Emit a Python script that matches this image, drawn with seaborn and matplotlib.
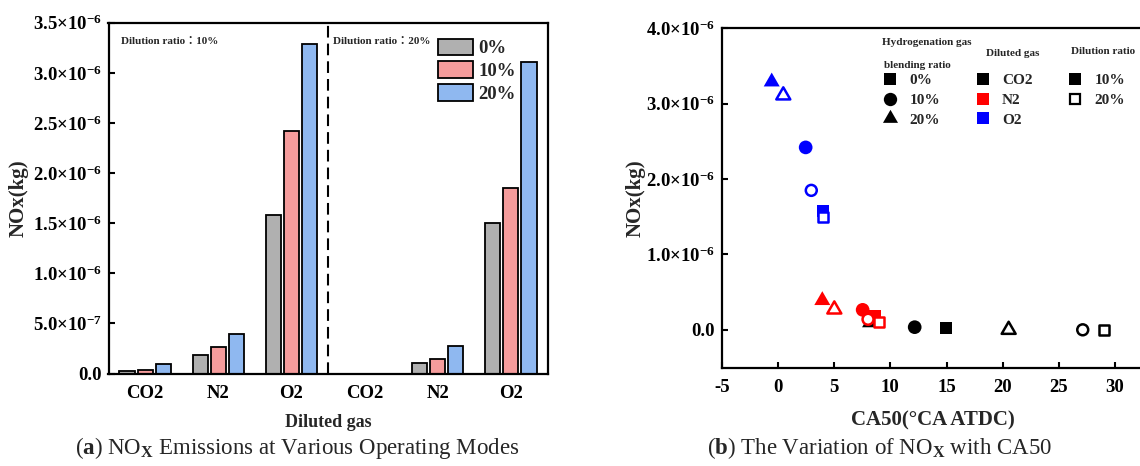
import numpy as np
import pandas as pd
import matplotlib
matplotlib.use("Agg")
import matplotlib.pyplot as plt
from matplotlib.lines import Line2D
from matplotlib.path import Path
from matplotlib.ticker import FuncFormatter
import seaborn as sns

# ---------------- data ----------------
gases = ["CO2", "N2", "O2"]
blend_ratios = ["0%", "10%", "20%"]
dilution_ratios = ["10%", "20%"]

# NOx emission (kg) for CO2, N2, O2 at each hydrogen blending ratio
nox_dil10_h0 = [2.0e-8, 1.8e-7, 1.58e-6]
nox_dil10_h10 = [3.5e-8, 2.65e-7, 2.42e-6]
nox_dil10_h20 = [9.5e-8, 3.9e-7, 3.29e-6]
nox_dil20_h0 = [0.0, 1.0e-7, 1.50e-6]
nox_dil20_h10 = [0.0, 1.4e-7, 1.85e-6]
nox_dil20_h20 = [0.0, 2.7e-7, 3.11e-6]

# CA50 (°CA ATDC) for CO2, N2, O2 at each hydrogen blending ratio
ca50_dil10_h0 = [14.96, 8.58, 3.99]
ca50_dil10_h10 = [12.17, 7.54, 2.47]
ca50_dil10_h20 = [8.2, 3.95, -0.55]
ca50_dil20_h0 = [29.04, 9.02, 3.99]
ca50_dil20_h10 = [27.12, 8.02, 2.97]
ca50_dil20_h20 = [20.53, 5.02, 0.48]

y_ticks_a = [0, 5e-7, 1e-6, 1.5e-6, 2e-6, 2.5e-6, 3e-6, 3.5e-6]
y_ticks_b = [0, 1e-6, 2e-6, 3e-6, 4e-6]
x_ticks_b = [-5, 0, 5, 10, 15, 20, 25, 30]

bar_palette = {"0%": "#B0B0B0", "10%": "#F59C9C", "20%": "#8FB8F0"}
gas_palette = {"CO2": "#000000", "N2": "#FF0000", "O2": "#0000FF"}

series = [
    ("10%", "0%", nox_dil10_h0, ca50_dil10_h0),
    ("10%", "10%", nox_dil10_h10, ca50_dil10_h10),
    ("10%", "20%", nox_dil10_h20, ca50_dil10_h20),
    ("20%", "0%", nox_dil20_h0, ca50_dil20_h0),
    ("20%", "10%", nox_dil20_h10, ca50_dil20_h10),
    ("20%", "20%", nox_dil20_h20, ca50_dil20_h20),
]
rows = []
for dil, blend, nox, ca in series:
    for g, n, c in zip(gases, nox, ca):
        rows.append({"dilution": dil, "blend": blend, "gas": g,
                     "slot": f"{dil}|{g}", "nox": n, "ca50": c})
df = pd.DataFrame(rows)

# ---------------- style ----------------
sns.set_style("ticks")
plt.rcParams.update({
    "font.family": ["Liberation Serif", "Noto Sans CJK TC"],
    "font.weight": "bold",
    "axes.labelweight": "bold",
    "mathtext.fontset": "custom",
    "mathtext.rm": "Liberation Serif:bold",
    "mathtext.bf": "Liberation Serif:bold",
    "mathtext.sf": "Liberation Serif",
    "mathtext.it": "Liberation Serif:italic:bold",
    "mathtext.default": "rm",
    "axes.unicode_minus": False,
    "axes.linewidth": 1.6,
    "axes.edgecolor": "black",
    "xtick.direction": "in",
    "ytick.direction": "in",
    "xtick.major.size": 4,
    "ytick.major.size": 4.5,
    "xtick.major.width": 1.5,
    "ytick.major.width": 1.5,
    "xtick.color": "black",
    "ytick.color": "black",
})

W, H = 1140, 466
fig = plt.figure(figsize=(W / 100, H / 100), dpi=100)


def fx(px):
    return px / W


def fy(py):
    return 1 - py / H


def sci_label(v, pos=None):
    if abs(v) < 1e-15:
        return "0.0"
    e = int(np.floor(np.log10(abs(v)) + 1e-9))
    m = v / 10 ** e
    return f"{m:.1f}×10$^{{{e}}}$"


# ---------------- (a) bar chart ----------------
ax1 = fig.add_axes([fx(108.5), fy(373.5), fx(547.5) - fx(108.5), (373.5 - 22.7) / H])
order = [f"{d}|{g}" for d in dilution_ratios for g in gases]
sns.barplot(data=df, x="slot", y="nox", hue="blend", order=order,
            hue_order=blend_ratios, palette=bar_palette, saturation=1,
            width=0.74, gap=0.16, edgecolor="black", linewidth=1.3,
            errorbar=None, ax=ax1)
ax1.axvline(2.5, color="black", lw=1.5, ls=(0, (5.6, 2.9)))
ax1.set_ylim(0, 3.5e-6)
ax1.set_yticks(y_ticks_a)
ax1.yaxis.set_major_formatter(FuncFormatter(sci_label))
ax1.set_xticks(range(len(order)))
ax1.set_xticklabels([s.split("|")[1] for s in order])
ax1.tick_params(axis="x", length=0, pad=8.5, labelsize=13.5)
ax1.tick_params(axis="y", pad=5, labelsize=13.5)
for lab in ax1.get_xticklabels() + ax1.get_yticklabels():
    lab.set_fontweight("bold")
ax1.set_xlabel("Diluted gas", fontsize=13, fontweight="bold")
ax1.xaxis.set_label_coords(0.5, (373.5 - 422.7) / 350.8)
ax1.xaxis.label.set_va("center")
ax1.set_ylabel("NOx(kg)", fontsize=15, fontweight="bold")
ax1.yaxis.set_label_coords((18.8 - 108.5) / 439, 0.5)
ax1.yaxis.label.set_va("center")

handles, labels = ax1.get_legend_handles_labels()
ax1.legend(handles, labels, loc="upper left",
           bbox_to_anchor=(fx(438.3), fy(38.5)), bbox_transform=fig.transFigure,
           frameon=False, fontsize=13.5, handlelength=1.87, handleheight=0.98,
           handletextpad=0.27, labelspacing=0.22, borderpad=0, borderaxespad=0)

fig.text(fx(120.7), fy(41.7), "Dilution ratio：10%", fontsize=8,
         fontweight="bold", ha="left", va="center")
fig.text(fx(333), fy(42), "Dilution ratio：20%", fontsize=8,
         fontweight="bold", ha="left", va="center")

# ---------------- (b) scatter ----------------
ax2 = fig.add_axes([fx(721.7), fy(367.5), fx(1143.2) - fx(721.7), (367.5 - 28.3) / H])

tri = Path(np.array([[0, 0.577], [-0.5, -0.289], [0.5, -0.289], [0, 0]]), closed=True)
marker_map = {"0%": "s", "10%": "o", "20%": tri}
filled_sizes = {"0%": 79, "10%": 97, "20%": 177}
open_sizes = {"0%": 52, "10%": 62, "20%": 135}

solid = df[df["dilution"] == "10%"]
hollow = df[df["dilution"] == "20%"]

sns.scatterplot(data=solid, x="ca50", y="nox", hue="gas", style="blend",
                size="blend", palette=gas_palette, markers=marker_map,
                sizes=filled_sizes, hue_order=gases, style_order=blend_ratios,
                size_order=blend_ratios, legend=False, ax=ax2)
pts = ax2.collections[-1]
pts.set_linewidths(0)

sns.scatterplot(data=hollow, x="ca50", y="nox", hue="gas", style="blend",
                size="blend", palette=gas_palette, markers=marker_map,
                sizes=open_sizes, hue_order=gases, style_order=blend_ratios,
                size_order=blend_ratios, legend=False, ax=ax2)
pts = ax2.collections[-1]
cols = pts.get_facecolors()
pts.set_edgecolors(cols)
pts.set_facecolors("white")
pts.set_linewidths(1.8)

ax2.set_xlim(-5, 32.5)
ax2.set_ylim(-0.5e-6, 4.0e-6)
ax2.set_xticks(x_ticks_b)
ax2.set_yticks(y_ticks_b)
ax2.yaxis.set_major_formatter(FuncFormatter(sci_label))
ax2.tick_params(axis="x", pad=8, labelsize=13.5)
ax2.tick_params(axis="y", pad=5, labelsize=13.5)
for lab in ax2.get_xticklabels() + ax2.get_yticklabels():
    lab.set_fontweight("bold")
ax2.set_xlabel("CA50(°CA ATDC)", fontsize=15, fontweight="bold")
ax2.xaxis.set_label_coords(0.5, (367.5 - 420.5) / 339.2)
ax2.xaxis.label.set_va("center")
ax2.set_ylabel("NOx(kg)", fontsize=15, fontweight="bold")
ax2.yaxis.set_label_coords((636 - 721.7) / 421.5, 0.5)
ax2.yaxis.label.set_va("center")


def mk(marker, color="black", ms=8.4, open_=False):
    if open_:
        return Line2D([], [], ls="none", marker=marker, ms=ms, mfc="white",
                      mec=color, mew=1.6)
    return Line2D([], [], ls="none", marker=marker, ms=ms, mfc=color,
                  mec=color, mew=0)


leg_kw = dict(loc="upper left", bbox_transform=fig.transFigure, frameon=False,
              fontsize=11, handlelength=1.0, handletextpad=0.76,
              labelspacing=0.4, borderpad=0, borderaxespad=0)

leg1 = ax2.legend([mk("s"), mk("o", ms=9.6), mk(tri, ms=12.5)], blend_ratios,
                  bbox_to_anchor=(fx(882.4), fy(73.5)), **leg_kw)
ax2.add_artist(leg1)
leg2 = ax2.legend([mk("s", gas_palette[g]) for g in gases], gases,
                  bbox_to_anchor=(fx(975.0), fy(73.5)), **leg_kw)
ax2.add_artist(leg2)
ax2.legend([mk("s"), mk("s", ms=6.8, open_=True)], dilution_ratios,
           bbox_to_anchor=(fx(1067.4), fy(73.5)), **leg_kw)

fig.text(fx(881.7), fy(42.7), "Hydrogenation gas", fontsize=8,
         fontweight="bold", ha="left", va="center")
fig.text(fx(884.3), fy(65), "blending ratio", fontsize=8,
         fontweight="bold", ha="left", va="center")
fig.text(fx(985.7), fy(53.3), "Diluted gas", fontsize=8,
         fontweight="bold", ha="left", va="center")
fig.text(fx(1071), fy(51.7), "Dilution ratio", fontsize=8,
         fontweight="bold", ha="left", va="center")

# ---------------- captions ----------------
fig.text(fx(297), fy(454), r"($\mathbf{a}$) NO$_{\mathsf{X}}$ Emissions at Various Operating Modes",
         fontsize=16.5, fontweight="normal", ha="center", va="baseline")
fig.text(fx(879.7), fy(454), r"($\mathbf{b}$) The Variation of NO$_{\mathsf{X}}$ with CA50",
         fontsize=16.5, fontweight="normal", ha="center", va="baseline")

fig.savefig("out.png", dpi=100)
